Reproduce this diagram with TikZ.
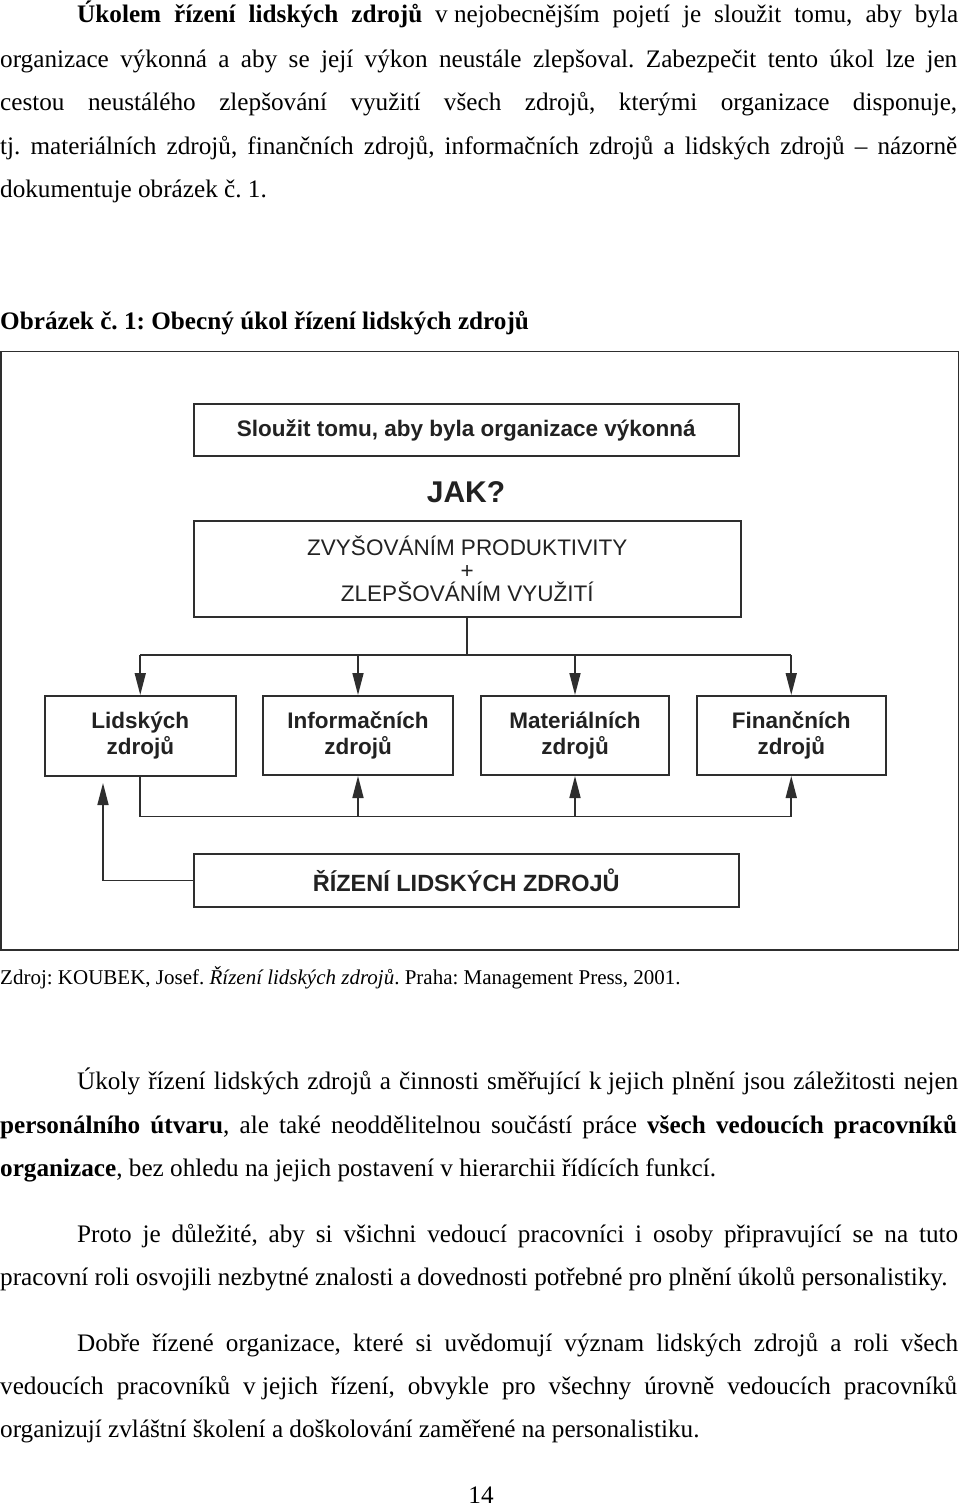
\documentclass[tikz,border=0pt]{standalone}
\usepackage{fontspec}
\setmainfont{Liberation Serif}
\newfontfamily\dsans{Liberation Sans}
\usetikzlibrary{arrows.meta}
\frenchspacing
\definecolor{lineC}{HTML}{2E2E2E}
\definecolor{headC}{HTML}{333333}
\definecolor{textC}{HTML}{222222}
\tikzset{
  body/.style={anchor=base west, inner sep=0pt, font=\fontsize{25.2}{30}\selectfont},
  box/.style={draw=lineC, line width=2pt, inner sep=0pt, text=textC},
  conn/.style={draw=lineC, line width=1.6pt},
  arr/.style={conn, -{Triangle[length=22pt,width=11pt]}},
}
\newcommand\jfull[1]{\makebox[957pt][s]{#1}}
\newcommand\jind[1]{\makebox[881pt][s]{#1}}
\begin{document}
\begin{tikzpicture}[x=1pt,y=-1pt]
\useasboundingbox[fill=white] (0,0) rectangle (960,1507);

% paragraph 1
\node[body] (p1a) at (77,23) {\jind{\textbf{Úkolem řízení lidských zdrojů} \mbox{v nejobecnějším} pojetí je sloužit tomu, aby byla}};
\node[body] (p1b) at (0,67) {\jfull{organizace výkonná a aby se její výkon neustále zlepšoval. Zabezpečit tento úkol lze jen}};
\node[body] (p1c) at (0,110) {\jfull{cestou neustálého zlepšování využití všech zdrojů, kterými organizace disponuje,}};
\node[body] (p1d) at (0,154) {\jfull{tj. materiálních zdrojů, finančních zdrojů, informačních zdrojů a lidských zdrojů – názorně}};
\node[body] (p1e) at (0,197) {dokumentuje obrázek č. 1.};

% caption
\node[body] (cap) at (0,329) {\textbf{Obrázek č. 1: Obecný úkol řízení lidských zdrojů}};

% figure frame
\draw[draw=lineC, line width=1.6pt] (0.8,351.5) rectangle (958.5,950);

% boxes
\node[box, minimum width=545.5pt, minimum height=52pt, font=\dsans\bfseries\fontsize{22.5}{26}\selectfont] (top) at (466.25,430) {Sloužit tomu, aby byla organizace výkonná};
\node[inner sep=0pt, text=textC, font=\dsans\bfseries\fontsize{30}{32}\selectfont] (jak) at (466,492) {JAK?};
\node[box, minimum width=547.5pt, minimum height=96pt, align=center, font=\dsans\fontsize{22.5}{23}\selectfont] (mid) at (467.25,568.5) {ZVYŠOVÁNÍM PRODUKTIVITY\\+\\ZLEPŠOVÁNÍM VYUŽITÍ};

\node[box, minimum width=191pt, minimum height=80pt, align=center, font=\dsans\bfseries\fontsize{22.5}{26}\selectfont] (L) at (140.25,736) {Lidských\\zdrojů};
\node[box, minimum width=190pt, minimum height=79pt, align=center, font=\dsans\bfseries\fontsize{22.5}{26}\selectfont] (I) at (358,735.5) {Informačních\\zdrojů};
\node[box, minimum width=188pt, minimum height=79pt, align=center, font=\dsans\bfseries\fontsize{22.5}{26}\selectfont] (M) at (575,735.5) {Materiálních\\zdrojů};
\node[box, minimum width=188.5pt, minimum height=79pt, align=center, font=\dsans\bfseries\fontsize{22.5}{26}\selectfont] (F) at (791.25,735.5) {Finančních\\zdrojů};

\node[box, minimum width=545.5pt, minimum height=52.7pt, font=\dsans\bfseries\fontsize{23.5}{26}\selectfont] (R) at (466.25,880.3) {ŘÍZENÍ LIDSKÝCH ZDROJŮ};

% connectors
\coordinate (bus) at (0,655);
\coordinate (bus2) at (0,816.5);
\coordinate (lx) at (103,0);
\coordinate (ltip) at (103,783);

\draw[conn] (mid.south) -- (mid.south |- bus);
\draw[conn] (L.north |- bus) -- (F.north |- bus);
\draw[arr] (L.north |- bus) -- (L.north);
\draw[arr] (I.north |- bus) -- (I.north);
\draw[arr] (M.north |- bus) -- (M.north);
\draw[arr] (F.north |- bus) -- (F.north);

\draw[conn] (L.south) -- (L.south |- bus2) -- (F.south |- bus2);
\draw[arr] (I.south |- bus2) -- (I.south);
\draw[arr] (M.south |- bus2) -- (M.south);
\draw[arr] (F.south |- bus2) -- (F.south);

\draw[arr] (R.west) -- (R.west -| lx) -- (ltip);

% source
\node[body, font=\fontsize{21}{25}\selectfont] (src) at (0,984) {Zdroj: KOUBEK, Josef. \textit{Řízení lidských zdrojů}. Praha: Management Press, 2001.};

% paragraph 2
\node[body] (p2a) at (77,1089) {\jind{Úkoly řízení lidských zdrojů a činnosti směřující \mbox{k jejich} plnění jsou záležitosti nejen}};
\node[body] (p2b) at (0,1133) {\jfull{\textbf{personálního útvaru}, ale také neoddělitelnou součástí práce \textbf{všech vedoucích pracovníků}}};
\node[body] (p2c) at (0,1176) {\textbf{organizace}, bez ohledu na jejich postavení v hierarchii řídících funkcí.};

% paragraph 3
\node[body] (p3a) at (77,1242) {\jind{Proto je důležité, aby si všichni vedoucí pracovníci i osoby připravující se na tuto}};
\node[body] (p3b) at (0,1285) {pracovní roli osvojili nezbytné znalosti a dovednosti potřebné pro plnění úkolů personalistiky.};

% paragraph 4
\node[body] (p4a) at (77,1351) {\jind{Dobře řízené organizace, které si uvědomují význam lidských zdrojů a roli všech}};
\node[body] (p4b) at (0,1394) {\jfull{vedoucích pracovníků \mbox{v jejich} řízení, obvykle pro všechny úrovně vedoucích pracovníků}};
\node[body] (p4c) at (0,1437) {organizují zvláštní školení a doškolování zaměřené na personalistiku.};

% page number
\node[body, anchor=base] (pg) at (481,1503) {14};
\end{tikzpicture}
\end{document}
